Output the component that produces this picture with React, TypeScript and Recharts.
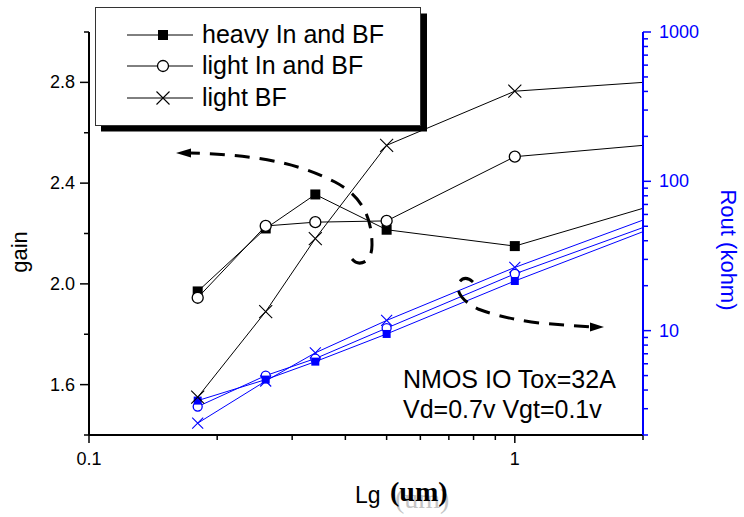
import React from 'react';
import { ComposedChart, Line, XAxis, YAxis } from 'recharts';

// gate length (um)
const lengths = [0.18, 0.26, 0.34, 0.5, 1, 2];

// gain, left axis
const gainHeavy = [1.97, 2.22, 2.355, 2.215, 2.15, 2.3];
const gainLightIn = [1.945, 2.23, 2.245, 2.25, 2.505, 2.55];
const gainLightBF = [1.55, 1.89, 2.18, 2.55, 2.765, 2.8];

// Rout (kohm), right axis
const routHeavy = [3.4, 4.7, 6.2, 9.5, 21.5, 46];
const routLightIn = [3.1, 5.0, 6.5, 10.4, 24, 49];
const routLightBF = [2.4, 4.6, 7.1, 11.7, 26.5, 55];

const gainTicks = [1.4, 1.6, 1.8, 2.0, 2.2, 2.4, 2.6, 2.8, 3.0];
const gainLabels = [1.6, 2.0, 2.4, 2.8];
const routTicks = [2, 3, 4, 5, 6, 7, 8, 9, 10, 20, 30, 40, 50, 60, 70, 80, 90, 100, 200, 300, 400, 500, 600, 700, 800, 900, 1000];
const routLabels = [10, 100, 1000];
const lgTicks = [0.1, 0.2, 0.3, 0.4, 0.5, 0.6, 0.7, 0.8, 0.9, 1, 2];
const lgLabels = [0.1, 1];

const legendNames = ['heavy In and BF', 'light In and BF', 'light BF'];

const data = lengths.map((lg, i) => ({
  lg,
  gHeavy: gainHeavy[i],
  gLightIn: gainLightIn[i],
  gLightBF: gainLightBF[i],
  rHeavy: routHeavy[i],
  rLightIn: routLightIn[i],
  rLightBF: routLightBF[i],
}));

const BLUE = '#0000ff';
const FONT = '"Liberation Sans", Arial, sans-serif';

const isIn = (list: number[], v: number) => list.some((m) => Math.abs(m - v) < 1e-6);

const drawMarker = (shape: string, cx: number, cy: number, color: string, size: number, key?: string) => {
  const h = size / 2;
  if (shape === 'square') {
    return <rect key={key} x={cx - h} y={cy - h} width={size} height={size} fill={color} />;
  }
  if (shape === 'circle') {
    return <circle key={key} cx={cx} cy={cy} r={h} fill="#fff" stroke={color} strokeWidth={1.3} />;
  }
  return (
    <path
      key={key}
      d={`M${cx - h},${cy - h}L${cx + h},${cy + h}M${cx + h},${cy - h}L${cx - h},${cy + h}`}
      stroke={color}
      strokeWidth={1.1}
      fill="none"
    />
  );
};

// no marker on the last point (line just runs to the axis)
const dotFor = (shape: string, color: string, size: number) => (props: any) => {
  const { cx, cy, index } = props;
  if (index === lengths.length - 1 || cx == null || cy == null) return <g key={`e${index}`} />;
  return drawMarker(shape, cx, cy, color, size, `d${index}`);
};

const LeftTick = (props: any) => {
  const { x, y, payload } = props;
  const v = payload.value;
  const major = isIn(gainLabels, v);
  return (
    <g>
      <line x1={x - (major ? 9 : 5)} x2={x} y1={y} y2={y} stroke="#000" strokeWidth={1.5} />
      {major && (
        <text x={x - 14} y={y} textAnchor="end" dominantBaseline="central" fontSize={18} fontFamily={FONT} fill="#000">
          {v.toFixed(1)}
        </text>
      )}
    </g>
  );
};

const RightTick = (props: any) => {
  const { x, y, payload } = props;
  const v = payload.value;
  const major = isIn(routLabels, v);
  return (
    <g>
      <line x1={x} x2={x + (major ? 8 : 5)} y1={y} y2={y} stroke={BLUE} strokeWidth={1.5} />
      {major && (
        <text x={x + 16} y={y} textAnchor="start" dominantBaseline="central" fontSize={18} fontFamily={FONT} fill={BLUE}>
          {String(v)}
        </text>
      )}
    </g>
  );
};

const BottomTick = (props: any) => {
  const { x, y, payload } = props;
  const v = payload.value;
  const major = isIn(lgLabels, v);
  return (
    <g>
      <line x1={x} x2={x} y1={y} y2={y + (major ? 8 : 5)} stroke="#000" strokeWidth={1.5} />
      {major && (
        <text x={x} y={y + 30} textAnchor="middle" fontSize={18} fontFamily={FONT} fill="#000">
          {String(v)}
        </text>
      )}
    </g>
  );
};

const legendShapes = ['square', 'circle', 'cross'];
const legendRows = [35, 66, 98];

export default function App() {
  return (
    <div style={{ position: 'relative', width: 744, height: 517, background: '#fff' }}>
      <style>{'body{margin:0;}'}</style>
      <ComposedChart width={744} height={517} data={data} margin={{ top: 32, right: 0, bottom: 0, left: 0 }}>
        <XAxis
          dataKey="lg"
          type="number"
          scale="log"
          domain={[0.1, 2]}
          ticks={lgTicks}
          interval={0}
          height={82}
          tickSize={0}
          tickMargin={0}
          tickLine={false}
          axisLine={{ stroke: '#000', strokeWidth: 2 }}
          tick={(p: any) => <BottomTick {...p} />}
        />
        <YAxis
          yAxisId="left"
          type="number"
          domain={[1.4, 3.0]}
          ticks={gainTicks}
          interval={0}
          width={89}
          tickSize={0}
          tickMargin={0}
          tickLine={false}
          axisLine={{ stroke: '#000', strokeWidth: 2 }}
          tick={(p: any) => <LeftTick {...p} />}
        />
        <YAxis
          yAxisId="right"
          orientation="right"
          type="number"
          scale="log"
          domain={[2, 1000]}
          ticks={routTicks}
          interval={0}
          width={101}
          tickSize={0}
          tickMargin={0}
          tickLine={false}
          axisLine={{ stroke: BLUE, strokeWidth: 2 }}
          tick={(p: any) => <RightTick {...p} />}
        />
        <Line yAxisId="right" dataKey="rLightBF" stroke={BLUE} strokeWidth={1} dot={dotFor('cross', BLUE, 11)} activeDot={false} isAnimationActive={false} />
        <Line yAxisId="right" dataKey="rLightIn" stroke={BLUE} strokeWidth={1} dot={dotFor('circle', BLUE, 9)} activeDot={false} isAnimationActive={false} />
        <Line yAxisId="right" dataKey="rHeavy" stroke={BLUE} strokeWidth={1} dot={dotFor('square', BLUE, 8)} activeDot={false} isAnimationActive={false} />
        <Line yAxisId="left" dataKey="gLightBF" stroke="#000" strokeWidth={1} dot={dotFor('cross', '#000', 13)} activeDot={false} isAnimationActive={false} />
        <Line yAxisId="left" dataKey="gHeavy" stroke="#000" strokeWidth={1} dot={dotFor('square', '#000', 10)} activeDot={false} isAnimationActive={false} />
        <Line yAxisId="left" dataKey="gLightIn" stroke="#000" strokeWidth={1} dot={dotFor('circle', '#000', 11)} activeDot={false} isAnimationActive={false} />
      </ComposedChart>

      <svg width={744} height={517} style={{ position: 'absolute', left: 0, top: 0, pointerEvents: 'none' }}>
        {/* legend with drop shadow */}
        <rect x={101} y={13.5} width={326} height={118} fill="#000" />
        <rect x={95.5} y={7.5} width={325} height={118} fill="#fff" stroke="#333" strokeWidth={1} />
        {legendNames.map((name, i) => (
          <g key={name}>
            <line x1={127} x2={193} y1={legendRows[i]} y2={legendRows[i]} stroke="#000" strokeWidth={1} />
            {drawMarker(legendShapes[i], 163, legendRows[i], '#000', i === 0 ? 10 : i === 1 ? 11 : 13)}
            <text x={202} y={legendRows[i] + 8} fontSize={25} fontFamily={FONT} fill="#000">
              {name}
            </text>
          </g>
        ))}

        {/* dashed arrows */}
        <path
          d="M352 259 Q358 266 366 261 Q372 256 372 245 C372 215 360 195 335 182 C305 167 270 155 190 153"
          fill="none"
          stroke="#000"
          strokeWidth={3}
          strokeDasharray="15 10"
        />
        <polygon points="176,153 191,148.5 191,157.5" fill="#000" />
        <path
          d="M473 282 Q464 274 458 284 Q456 298 478 309 Q505 319 540 323 L591 327"
          fill="none"
          stroke="#000"
          strokeWidth={3}
          strokeDasharray="15 10"
        />
        <polygon points="604,327 590,322.5 590,331.5" fill="#000" />

        {/* annotation */}
        <text x={403} y={388} fontSize={25} fontFamily={FONT} fill="#000">NMOS IO Tox=32A</text>
        <text x={403} y={418} fontSize={25} fontFamily={FONT} fill="#000">Vd=0.7v Vgt=0.1v</text>

        {/* axis titles */}
        <text transform="translate(27,252) rotate(-90)" textAnchor="middle" fontSize={22} fontFamily={FONT} fill="#000">gain</text>
        <text transform="translate(721,250) rotate(90)" textAnchor="middle" fontSize={22} fontFamily={FONT} fill={BLUE}>Rout (kohm)</text>
        <text x={355} y={503} fontSize={23} fontFamily={FONT} fill="#000">Lg</text>
        <text x={395} y={508} fontSize={28} fontFamily='"Liberation Serif", serif' fill="#c4c4c4">(um)</text>
        <text x={390} y={501} fontSize={28} fontWeight="bold" fontFamily='"Liberation Serif", serif' fill="#000">(um)</text>
      </svg>
    </div>
  );
}
